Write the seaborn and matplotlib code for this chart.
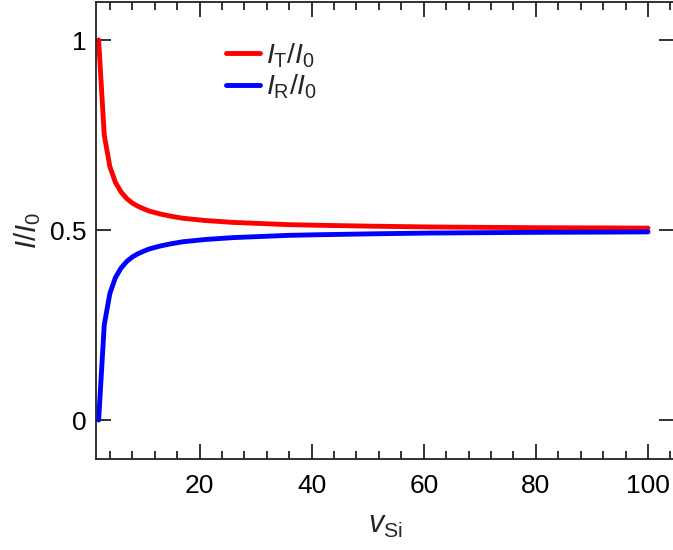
import matplotlib
matplotlib.use("Agg")
import matplotlib.pyplot as plt
import seaborn as sns
import pandas as pd
from matplotlib.ticker import MultipleLocator

# data
v_si = [2, 3, 4, 5, 6, 7, 8, 9, 10, 11, 13, 15, 17, 19, 21, 26, 31, 36, 41,
        51, 61, 71, 81, 91, 100]
i_t = [1.0, 0.75, 0.667, 0.625, 0.6, 0.583, 0.571, 0.5625, 0.556, 0.55,
       0.542, 0.536, 0.531, 0.528, 0.525, 0.52, 0.517, 0.514, 0.5125,
       0.51, 0.508, 0.507, 0.506, 0.5056, 0.505]
i_r = [0.0, 0.25, 0.333, 0.375, 0.4, 0.417, 0.429, 0.4375, 0.444, 0.45,
       0.458, 0.464, 0.469, 0.472, 0.475, 0.48, 0.483, 0.486, 0.4875,
       0.49, 0.492, 0.493, 0.494, 0.4944, 0.495]
labels = [r"$I_{\mathrm{T}}/I_0$", r"$I_{\mathrm{R}}/I_0$"]
x_ticks = [20, 40, 60, 80, 100]
y_ticks = [0, 0.5, 1]
y_ticklabels = ["0", "0.5", "1"]

sns.set_theme(style="ticks")
plt.rcParams["font.family"] = ["Liberation Sans", "DejaVu Sans"]
plt.rcParams["mathtext.fontset"] = "custom"
plt.rcParams["mathtext.rm"] = "Liberation Sans"
plt.rcParams["mathtext.it"] = "Liberation Sans:italic"
plt.rcParams["mathtext.bf"] = "Liberation Sans:bold"

df = pd.DataFrame({
    "v": v_si + v_si,
    "I": i_t + i_r,
    "series": [labels[0]] * len(v_si) + [labels[1]] * len(v_si),
})

fig = plt.figure(figsize=(6.73, 5.5), dpi=100)
ax = fig.add_axes([96 / 673, 91 / 550, 1.0 - 96 / 673 + 0.002, 457 / 550])

sns.lineplot(data=df, x="v", y="I", hue="series",
             palette={labels[0]: "#ff0000", labels[1]: "#0000ff"},
             linewidth=3.5, ax=ax, legend=True)

ax.set_xlim(1.53, 104.7)
ax.set_ylim(-0.1026, 1.1)
ax.set_xticks(x_ticks)
ax.xaxis.set_minor_locator(MultipleLocator(4))
ax.set_yticks(y_ticks)
ax.set_yticklabels(y_ticklabels)

for s in ax.spines.values():
    s.set_linewidth(1.3)
    s.set_color("#222222")
    s.set_visible(True)

ax.tick_params(axis="both", which="major", direction="in", length=11,
               width=1.3, color="#222222", labelsize=19,
               top=True, right=True, labelcolor="black")
ax.tick_params(axis="x", which="minor", direction="in", length=6,
               width=1.3, color="#222222", top=True, bottom=True)
ax.tick_params(axis="x", which="major", pad=10.5)
ax.tick_params(axis="y", which="major", pad=7)

ax.set_xlabel(r"$v_{\mathrm{Si}}$", fontsize=22, labelpad=9)
ax.set_ylabel(r"$I/I_0$", fontsize=21, labelpad=5)

leg = ax.legend(loc="upper left", bbox_to_anchor=(0.2253, 0.914),
                frameon=False, fontsize=20.5, handlelength=1.2,
                handletextpad=0.18, labelspacing=0.1, borderpad=0,
                borderaxespad=0)
for line in leg.get_lines():
    line.set_linewidth(3.5)

fig.savefig("out.png", dpi=100)
